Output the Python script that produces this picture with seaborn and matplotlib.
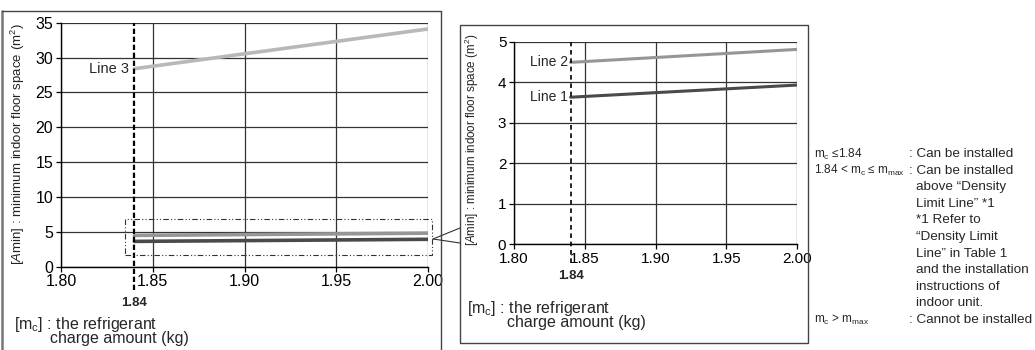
import matplotlib
matplotlib.use("Agg")
import numpy as np
import pandas as pd
import seaborn as sns
import matplotlib.pyplot as plt
from matplotlib.patches import Rectangle
from matplotlib.lines import Line2D
import matplotlib.transforms as mtransforms

# ---------------- data ----------------
charge = [1.84, 2.00]                  # m_c (kg)
line1 = [3.63, 3.93]                   # Amin (m2)
line2 = [4.49, 4.81]
line3 = [28.4, 34.1]
series_names = ["Line 1", "Line 2", "Line 3"]
x_ticks = [1.80, 1.85, 1.90, 1.95, 2.00]
x_ticklabels = ["1.80", "1.85", "1.90", "1.95", "2.00"]
left_yticks = [0, 5, 10, 15, 20, 25, 30, 35]
right_yticks = [0, 1, 2, 3, 4, 5]
threshold = 1.84
threshold_label = "1.84"
zoom_box = [1.835, 1.7, 2.002, 6.8]    # x0, y0, x1, y1
ylabel_text = "[$\\mathit{A}$min] : minimum indoor floor space (m$^2$)"
xlabel_line1 = "[m$_\\mathregular{c}$] : the refrigerant"
xlabel_line2 = "charge amount (kg)"
note_left = ["m$_\\mathregular{c}$ \u22641.84", "1.84 < m$_\\mathregular{c}$ \u2264 m$_\\mathregular{max}$",
             "", "", "", "", "", "", "", "", "m$_\\mathregular{c}$ > m$_\\mathregular{max}$"]
note_right = [": Can be installed", ": Can be installed", "above \u201cDensity",
              "Limit Line\u201d *1", "*1 Refer to", "\u201cDensity Limit",
              "Line\u201d in Table 1", "and the installation", "instructions of",
              "indoor unit.", ": Cannot be installed"]

# ---------------- style ----------------
sns.set_style("white")
plt.rcParams["font.family"] = ["Liberation Sans", "DejaVu Sans"]
plt.rcParams["mathtext.fontset"] = "custom"
plt.rcParams["mathtext.rm"] = "Liberation Sans"
plt.rcParams["mathtext.it"] = "Liberation Sans:italic"
plt.rcParams["mathtext.bf"] = "Liberation Sans:bold"

W, H = 1035, 350
fig = plt.figure(figsize=(W / 100, H / 100), dpi=100)
fig.patch.set_facecolor("white")


def fx(px):
    return px / W


def fy(py):
    return 1 - py / H


axL = fig.add_axes([fx(61), fy(266.7), fx(428) - fx(61), fy(22.7) - fy(266.7)])
axR = fig.add_axes([fx(514), fy(244.3), fx(797) - fx(514), fy(41.7) - fy(244.3)])

df = pd.DataFrame({
    "mc": charge * 3,
    "amin": line1 + line2 + line3,
    "series": [s for s in series_names for _ in charge],
})
palette = {"Line 1": "#4a4a4a", "Line 2": "#969696", "Line 3": "#b8b8b8"}

sns.lineplot(data=df, x="mc", y="amin", hue="series", palette=palette,
             ax=axL, legend=False, linewidth=2.6)
sns.lineplot(data=df[df["series"] != "Line 3"], x="mc", y="amin", hue="series",
             palette=palette, ax=axR, legend=False, linewidth=2.2)

for ax, yt, ylim, fs in [(axL, left_yticks, (0, 35), 11.5), (axR, right_yticks, (0, 5), 11)]:
    ax.set_xlim(x_ticks[0], x_ticks[-1])
    ax.set_ylim(*ylim)
    ax.set_xticks(x_ticks)
    ax.set_xticklabels(x_ticklabels)
    ax.set_yticks(yt)
    ax.grid(True, color="#333333", linewidth=0.9)
    ax.set_axisbelow(True)
    for s in ["top", "right"]:
        ax.spines[s].set_visible(False)
    for s in ["left", "bottom"]:
        ax.spines[s].set_color("black")
        ax.spines[s].set_linewidth(1.0)
    ax.tick_params(direction="out", length=3.5, width=0.9, colors="black",
                   labelsize=fs, pad=2, bottom=True, left=True)
    ax.set_xlabel("")
    ax.set_facecolor("white")

axL.set_ylabel(ylabel_text, fontsize=9.5, color="#222222")
axL.yaxis.set_label_coords(-0.093, 0.503)
axR.set_ylabel(ylabel_text, fontsize=8.4, color="#222222")
axR.yaxis.set_label_coords(-0.118, 0.515)

# threshold dashed lines and labels
axL.axvline(threshold, ymin=-0.096, ymax=1, clip_on=False, color="black",
            linewidth=1.6, linestyle=(0, (2.4, 1.2)), zorder=5)
axR.axvline(threshold, ymin=-0.092, ymax=1, clip_on=False, color="black",
            linewidth=1.2, linestyle=(0, (2.8, 2.2)), zorder=5)
trL = mtransforms.blended_transform_factory(axL.transData, axL.transAxes)
trR = mtransforms.blended_transform_factory(axR.transData, axR.transAxes)
axL.text(threshold, -0.148, threshold_label, transform=trL, ha="center", va="center",
         fontsize=9.5, fontweight="bold")
axR.text(threshold, -0.155, threshold_label, transform=trR, ha="center", va="center",
         fontsize=9.5, fontweight="bold")

# line labels
axL.text(charge[0] - 0.003, line3[0], "Line 3", ha="right", va="center", fontsize=10.5)
axR.text(charge[0] - 0.002, line2[0], "Line 2", ha="right", va="center", fontsize=10)
axR.text(charge[0] - 0.002, line1[0], "Line 1", ha="right", va="center", fontsize=10)

# zoom box on the left chart
axL.add_patch(Rectangle((zoom_box[0], zoom_box[1]), zoom_box[2] - zoom_box[0],
                        zoom_box[3] - zoom_box[1], fill=False, edgecolor="#333333",
                        linewidth=0.8, linestyle=(0, (5, 2, 1, 2, 1, 2)), clip_on=False,
                        zorder=6))

# x-axis captions
for (x1, y1, x2, y2) in [(14, 324, 50, 339), (467, 308, 507, 323)]:
    fig.text(fx(x1), fy(y1), xlabel_line1, fontsize=11.5, ha="left", va="center")
    fig.text(fx(x2), fy(y2), xlabel_line2, fontsize=11.5, ha="left", va="center")

# frames
def fline(xs, ys, **kw):
    fig.add_artist(Line2D([fx(v) for v in xs], [fy(v) for v in ys],
                          transform=fig.transFigure, **kw))

fline([2, 2], [11, 350], color="#777777", linewidth=1.8)
fline([2, 441], [11, 11], color="#444444", linewidth=1.0)
fline([441, 441], [11, 350], color="#444444", linewidth=1.0)
fig.add_artist(Rectangle((fx(460), fy(343)), fx(808) - fx(460), fy(25) - fy(343),
                         transform=fig.transFigure, fill=False, edgecolor="#444444",
                         linewidth=1.0))
# callout wedge
fline([433, 460], [239, 228], color="#333333", linewidth=0.8)
fline([433, 460], [239, 243], color="#333333", linewidth=0.8)

# right notes
y0, dy = 154, 16.6
for i, (a, b) in enumerate(zip(note_left, note_right)):
    y = y0 + i * dy
    if a:
        fig.text(fx(814), fy(y), a, fontsize=8.5, ha="left", va="center")
    xb = 909 if b.startswith(":") else 916
    fig.text(fx(xb), fy(y), b, fontsize=9.7, ha="left", va="center")

fig.savefig("out.png", dpi=100)
